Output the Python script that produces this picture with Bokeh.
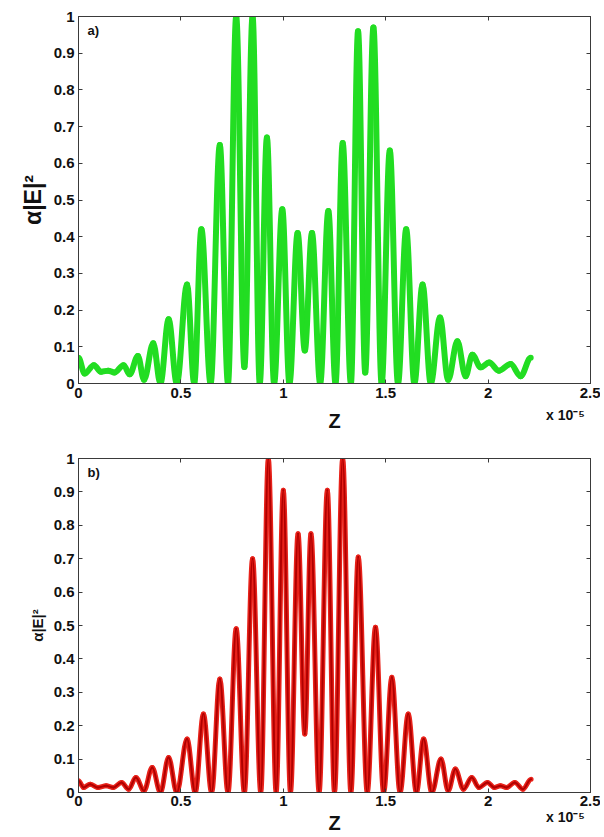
import json
import numpy as np
from bokeh.plotting import figure
from bokeh.models import (LinearAxis, Label, Range1d, FixedTicker, NumeralTickFormatter,
                          CustomJSTickFormatter, ColumnDataSource)
from bokeh.layouts import column
from bokeh.embed import file_html
from bokeh.resources import INLINE

# ---- data (z in units of 1e-5) ----
x_ticks = [0, 0.5, 1, 1.5, 2, 2.5]
y_ticks = [0, 0.1, 0.2, 0.3, 0.4, 0.5, 0.6, 0.7, 0.8, 0.9, 1]
x_label = "Z"
y_label = "α|E|²"
x_multiplier = "x 10⁻⁵"
x_multiplier_at = 2.378

# panel a) : successive extrema (peaks / troughs) of the green curve
green_z = [0.00, 0.03, 0.075, 0.11, 0.145, 0.175, 0.22, 0.25, 0.29, 0.32, 0.365, 0.40,
           0.44, 0.48, 0.53, 0.565, 0.60, 0.645, 0.69, 0.73, 0.77, 0.81, 0.85, 0.885,
           0.92, 0.955, 0.995, 1.03, 1.07, 1.105, 1.14, 1.18, 1.22, 1.255, 1.29, 1.33,
           1.365, 1.40, 1.44, 1.48, 1.52, 1.56, 1.60, 1.64, 1.68, 1.72, 1.765, 1.805,
           1.85, 1.89, 1.923, 1.964, 2.005, 2.053, 2.11, 2.159, 2.208]
green_e = [0.07, 0.027, 0.05, 0.032, 0.035, 0.03, 0.05, 0.025, 0.075, 0.01, 0.11, 0.0,
           0.175, 0.0, 0.27, 0.0, 0.42, 0.0, 0.65, 0.0, 1.0, 0.045, 1.0, 0.0,
           0.67, 0.0, 0.475, 0.0, 0.41, 0.09, 0.41, 0.0, 0.47, 0.0, 0.655, 0.0,
           0.96, 0.03, 0.97, 0.0, 0.635, 0.0, 0.42, 0.0, 0.27, 0.0, 0.18, 0.01,
           0.115, 0.02, 0.078, 0.044, 0.057, 0.035, 0.053, 0.02, 0.07]

# panel b) : successive extrema of the red curve
red_z = [0.00, 0.025, 0.057, 0.095, 0.135, 0.17, 0.21, 0.245, 0.28, 0.32, 0.36, 0.40,
         0.44, 0.48, 0.53, 0.57, 0.61, 0.65, 0.69, 0.73, 0.77, 0.81, 0.85, 0.89,
         0.927, 0.965, 1.0, 1.035, 1.072, 1.105, 1.135, 1.175, 1.215, 1.25, 1.29, 1.33,
         1.366, 1.41, 1.45, 1.49, 1.53, 1.57, 1.61, 1.65, 1.685, 1.725, 1.77, 1.805,
         1.84, 1.88, 1.92, 1.955, 1.997, 2.03, 2.06, 2.09, 2.13, 2.17, 2.21]
red_e = [0.035, 0.015, 0.025, 0.015, 0.02, 0.015, 0.03, 0.01, 0.045, 0.005, 0.075, 0.0,
         0.105, 0.0, 0.16, 0.0, 0.235, 0.0, 0.34, 0.0, 0.49, 0.0, 0.70, 0.0,
         1.0, 0.0, 0.905, 0.0, 0.775, 0.175, 0.775, 0.0, 0.905, 0.0, 1.0, 0.0,
         0.705, 0.0, 0.495, 0.0, 0.345, 0.0, 0.235, 0.0, 0.16, 0.0, 0.10, 0.005,
         0.07, 0.01, 0.045, 0.015, 0.03, 0.015, 0.02, 0.015, 0.03, 0.01, 0.04]

FONT = "Liberation Sans"
FRAME = "#3a3a3a"
TXT = "#111111"


def bezier_source(xs, ys, k=0.36):
    xs = np.asarray(xs, dtype=float)
    ys = np.asarray(ys, dtype=float)
    x0, x1 = xs[:-1], xs[1:]
    y0, y1 = ys[:-1], ys[1:]
    d = x1 - x0
    return ColumnDataSource(dict(x0=x0, y0=y0, x1=x1, y1=y1,
                                 cx0=x0 + k * d, cy0=y0, cx1=x1 - k * d, cy1=y1))


def panel(xs, ys, colors, widths, tag, height, bl, br, bt, bb,
          tick_size, tick_standoff, ylab_size, mult_standoff, z_standoff):
    p = figure(width=600, height=height, output_backend="svg", toolbar_location=None,
               x_range=Range1d(0, 2.5), y_range=Range1d(0, 1),
               min_border_left=bl, min_border_right=br, min_border_top=bt, min_border_bottom=bb)
    p.grid.visible = False
    p.outline_line_color = FRAME
    p.outline_line_width = 1
    p.background_fill_color = "white"

    src = bezier_source(xs, ys)
    for c, w in zip(colors, widths):
        p.bezier(x0="x0", y0="y0", x1="x1", y1="y1", cx0="cx0", cy0="cy0", cx1="cx1", cy1="cy1",
                 source=src, line_color=c, line_width=w, line_cap="round")

    xa = p.xaxis[0]
    ya = p.yaxis[0]
    xa.ticker = FixedTicker(ticks=x_ticks)
    ya.ticker = FixedTicker(ticks=y_ticks)
    for ax in (xa, ya):
        ax.major_tick_in = 4
        ax.major_tick_out = 0
        ax.minor_tick_in = 0
        ax.minor_tick_out = 0
        ax.axis_line_color = FRAME
        ax.major_tick_line_color = FRAME
        ax.major_label_text_font = FONT
        ax.major_label_text_font_style = "bold"
        ax.major_label_text_color = TXT
        ax.major_label_text_font_size = tick_size
        ax.formatter = NumeralTickFormatter(format="0.[0]")
        ax.major_label_standoff = tick_standoff
    ya.major_label_standoff = 4
    xa.axis_label = None
    ya.axis_label = y_label
    ya.axis_label_text_font = FONT
    ya.axis_label_text_font_style = "bold"
    ya.axis_label_text_font_size = ylab_size
    ya.axis_label_standoff = 5
    ya.axis_label_text_color = TXT

    # second, tick-less axis below: carries the "x 10^-5" multiplier and the "Z" label
    ax2 = LinearAxis(ticker=FixedTicker(ticks=[x_multiplier_at]),
                     formatter=CustomJSTickFormatter(code="return %s" % json.dumps(x_multiplier)),
                     axis_line_color=None, major_tick_line_color=None, minor_tick_line_color=None,
                     major_tick_in=0, major_tick_out=0, minor_tick_in=0, minor_tick_out=0,
                     major_label_standoff=mult_standoff, major_label_text_font=FONT,
                     major_label_text_font_style="bold", major_label_text_font_size="14px",
                     major_label_text_color=TXT,
                     axis_label=x_label, axis_label_standoff=z_standoff,
                     axis_label_text_font=FONT, axis_label_text_font_style="bold",
                     axis_label_text_font_size="20px", axis_label_text_color=TXT)
    p.add_layout(ax2, "below")

    for loc, tk in (("right", y_ticks), ("above", x_ticks)):
        ax = LinearAxis(ticker=FixedTicker(ticks=tk), major_tick_in=4, major_tick_out=0,
                        minor_tick_in=0, minor_tick_out=0, axis_line_color=FRAME,
                        major_tick_line_color=FRAME,
                        formatter=CustomJSTickFormatter(code="return ''"),
                        major_label_standoff=0, major_label_text_font_size="1px")
        p.add_layout(ax, loc)

    p.add_layout(Label(x=0.044, y=0.982, text=tag, text_font=FONT, text_font_style="bold",
                       text_font_size="13px", text_baseline="top", text_color=TXT))
    return p


# frame a): x 77..590, y 16..383   frame b): x 78..593, y 458..792 (page starts at 0,0)
top = panel(green_z, green_e, ["#22dd22"], [6], "a)", 440, 77, 10, 16, 57,
            "15px", 4, "23px", 6, -16)

bot = panel(red_z, red_e, ["#e8221a", "#b00000"], [5, 2], "b)", 397, 78, 7, 18, 45,
            "15px", 3, "15px", 0, -16)

layout = column(top, bot, spacing=0)
open("out.html", "w").write(file_html(layout, INLINE))
